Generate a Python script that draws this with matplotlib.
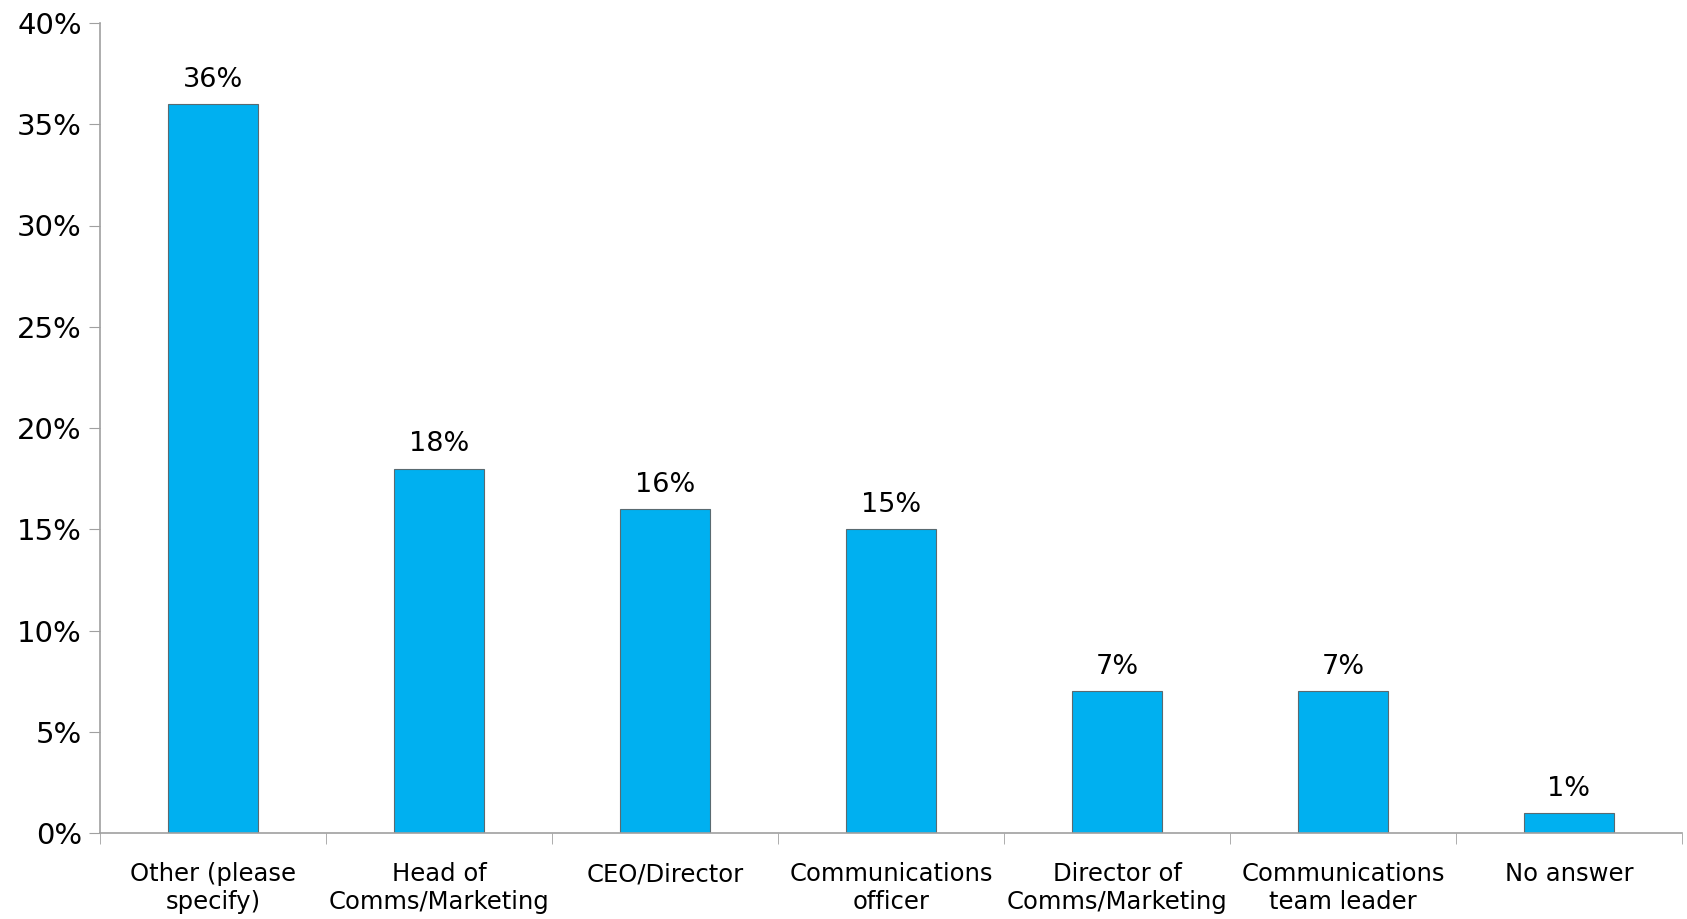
import matplotlib.pyplot as plt
import numpy as np
from matplotlib.ticker import FuncFormatter, FixedLocator

categories = ["Other (please\nspecify)", "Head of\nComms/Marketing", "CEO/Director",
              "Communications\nofficer", "Director of\nComms/Marketing",
              "Communications\nteam leader", "No answer"]
values = [36, 18, 16, 15, 7, 7, 1]
yticks = [0, 5, 10, 15, 20, 25, 30, 35, 40]

plt.rcParams["font.family"] = "DejaVu Sans"

fig = plt.figure(figsize=(16.87, 9.19), dpi=100)
ax = fig.add_axes([100 / 1687, 1 - 833 / 919, 1582 / 1687, 810 / 919])

x = np.arange(len(categories))
bars = ax.bar(x, values, width=0.4, color="#00B0F0", edgecolor="#5a6a70", linewidth=0.8)

for xi, v in zip(x, values):
    ax.text(xi, v + 0.55, f"{v}%", ha="center", va="bottom", fontsize=19.5, color="black")

ax.set_xlim(-0.5, len(categories) - 0.5)
ax.set_ylim(0, 40)
ax.set_yticks(yticks)
ax.yaxis.set_major_formatter(FuncFormatter(lambda v, p: f"{int(v)}%"))
ax.tick_params(axis="y", labelsize=21, length=8, color="#a0a0a0", pad=5)

ax.set_xticks(x)
ax.set_xticklabels(categories, fontsize=17.5, linespacing=1.2)
ax.tick_params(axis="x", which="major", length=0, pad=21)
ax.xaxis.set_minor_locator(FixedLocator(np.arange(-0.5, len(categories), 1.0)))
ax.tick_params(axis="x", which="minor", length=8, color="#a0a0a0")

for s in ["top", "right"]:
    ax.spines[s].set_visible(False)
for s in ["left", "bottom"]:
    ax.spines[s].set_color("#a0a0a0")
    ax.spines[s].set_linewidth(1.2)

fig.savefig("out.png", dpi=100)
